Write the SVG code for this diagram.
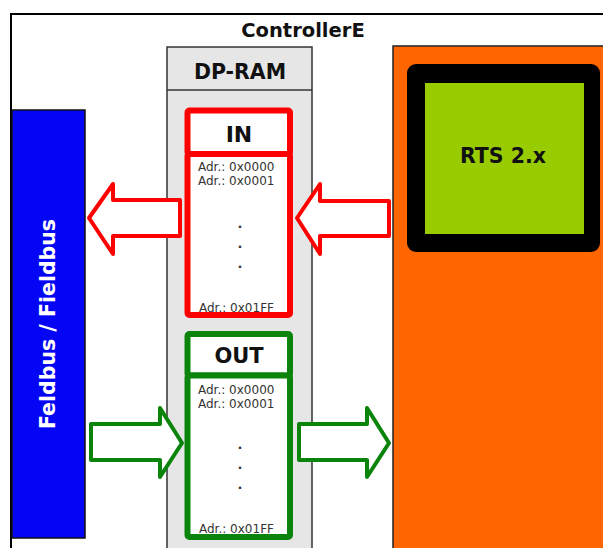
<svg xmlns="http://www.w3.org/2000/svg" width="603" height="548" viewBox="0 0 603 548">
<style>
.t{font-family:"DejaVu Sans","Liberation Sans",sans-serif;font-weight:bold;text-anchor:middle;fill:#111}
.a{font-family:"DejaVu Sans","Liberation Sans",sans-serif;font-size:12px;fill:#333}
.d{font-family:"DejaVu Sans","Liberation Sans",sans-serif;font-size:13px;font-weight:bold;fill:#333;text-anchor:middle}
.red{fill:#fff;stroke:#f00;stroke-width:6;stroke-linejoin:round}
.grn{fill:#fff;stroke:#0a840a;stroke-width:6;stroke-linejoin:round}
.ra{fill:#fff;stroke:#f00;stroke-width:4;stroke-linejoin:round}
.ga{fill:#fff;stroke:#0a840a;stroke-width:4;stroke-linejoin:round}
</style>
<rect x="0" y="0" width="603" height="548" fill="#fff"/>
<g id="controller">
<rect x="11" y="14" width="620" height="560" fill="#fff" stroke="#000" stroke-width="2"/>
<text class="t" x="303" y="37" font-size="19.5">ControllerE</text>
</g>
<g id="dpram">
<rect x="167" y="47" width="145" height="520" fill="#e6e6e6" stroke="#333" stroke-width="1.5"/>
<line x1="167" y1="90" x2="312" y2="90" stroke="#333" stroke-width="1.5"/>
<text class="t" x="240" y="79" font-size="20.5">DP-RAM</text>
</g>
<g id="fieldbus">
<rect x="12" y="110" width="73" height="428" fill="#0505f5" stroke="#111" stroke-width="1.5"/>
<text class="t" x="0" y="0" font-size="20.5" transform="translate(55,324) rotate(-90)" style="fill:#fff">Feldbus / Fieldbus</text>
</g>
<g id="in">
<rect class="red" x="187.5" y="110.5" width="102.5" height="43.5" rx="2"/>
<rect class="red" x="187.5" y="154" width="102.5" height="161" rx="2"/>
<text class="t" x="239" y="142" font-size="22">IN</text>
<text class="a" x="198" y="171">Adr.: 0x0000</text>
<text class="a" x="198" y="185">Adr.: 0x0001</text>
<text class="d" x="240" y="228">.</text>
<text class="d" x="240" y="248">.</text>
<text class="d" x="240" y="268">.</text>
<text class="a" x="199" y="312">Adr.: 0x01FF</text>
</g>
<g id="out">
<rect class="grn" x="187.5" y="334" width="102.5" height="41.5" rx="2"/>
<rect class="grn" x="187.5" y="375.5" width="102.5" height="161.5" rx="2"/>
<text class="t" x="239" y="363" font-size="21">OUT</text>
<text class="a" x="198" y="394">Adr.: 0x0000</text>
<text class="a" x="198" y="408">Adr.: 0x0001</text>
<text class="d" x="240" y="449">.</text>
<text class="d" x="240" y="469">.</text>
<text class="d" x="240" y="489">.</text>
<text class="a" x="199" y="533">Adr.: 0x01FF</text>
</g>
<g id="rts">
<rect x="393" y="46" width="230" height="520" fill="#ff6600" stroke="#222" stroke-width="1.5"/>
<rect x="407" y="64" width="193" height="188" rx="9" fill="#000"/>
<rect x="425" y="83" width="159" height="151" fill="#99cc00"/>
<text class="t" x="503" y="163" font-size="20.5">RTS 2.x</text>
</g>
<g id="connectors">
<polygon class="ra" points="89,218 113,184 113,200 180,200 180,236 113,236 113,254"/>
<polygon class="ra" points="297,218 320,184 320,201 389,201 389,236 320,236 320,254"/>
<polygon class="ga" points="182,443 160,408 160,424 91,424 91,460 160,460 160,477"/>
<polygon class="ga" points="389,443 367,408 367,424 299,424 299,460 367,460 367,477"/>
</g>
</svg>
